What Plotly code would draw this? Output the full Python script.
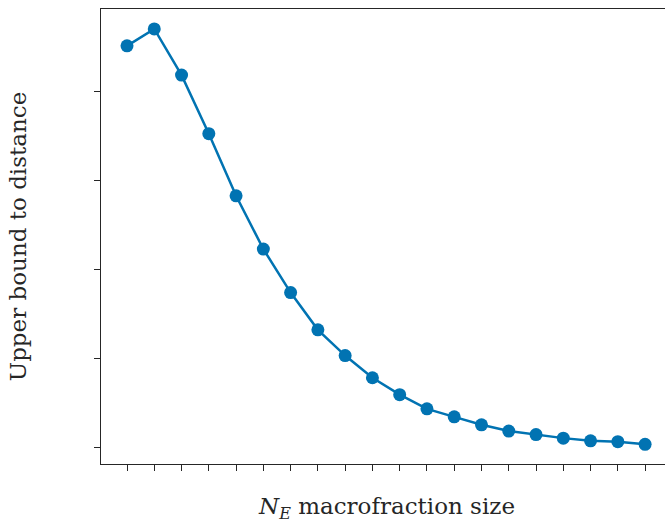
import plotly.graph_objects as go

# Macrofraction sizes and the upper bound on distance for each
sizes = list(range(1, 21))
upper_bound = [4.52, 4.71, 4.19, 3.53, 2.83, 2.23, 1.74, 1.32, 1.03, 0.78,
               0.59, 0.43, 0.34, 0.25, 0.18, 0.14, 0.10, 0.07, 0.06, 0.03]
y_ticks = [0, 1, 2, 3, 4]

blue = "#0173b2"
ink = "#262626"
serif = "DejaVu Serif"

fig = go.Figure(
    go.Scatter(
        x=sizes,
        y=upper_bound,
        mode="lines+markers",
        line=dict(color=blue, width=2.5),
        marker=dict(color=blue, size=13),
        showlegend=False,
    )
)

fig.update_layout(
    width=665,
    height=524,
    margin=dict(l=101, r=0, t=9, b=60),
    paper_bgcolor="white",
    plot_bgcolor="white",
    font=dict(family=serif, color=ink),
)

fig.update_xaxes(
    range=[0.046, 20.73],
    tickvals=sizes,
    showticklabels=False,
    ticks="outside",
    ticklen=6,
    tickwidth=1.3,
    tickcolor=ink,
    showline=True,
    linecolor=ink,
    linewidth=1.3,
    mirror=True,
    showgrid=False,
    zeroline=False,
)
fig.update_yaxes(
    range=[-0.1915, 4.935],
    tickvals=y_ticks,
    showticklabels=False,
    ticks="outside",
    ticklen=6,
    tickwidth=1.3,
    tickcolor=ink,
    showline=True,
    linecolor=ink,
    linewidth=1.3,
    showgrid=False,
    zeroline=False,
    title=dict(text="Upper bound to distance", font=dict(size=23, family=serif), standoff=60),
)

fig.add_annotation(
    text="<i>N</i><sub><i>E</i></sub> macrofraction size",
    xref="paper", yref="paper",
    x=0.507, y=-0.096,
    xanchor="center", yanchor="middle",
    showarrow=False,
    font=dict(size=23, family=serif, color=ink),
)

fig.write_html("out.html")
